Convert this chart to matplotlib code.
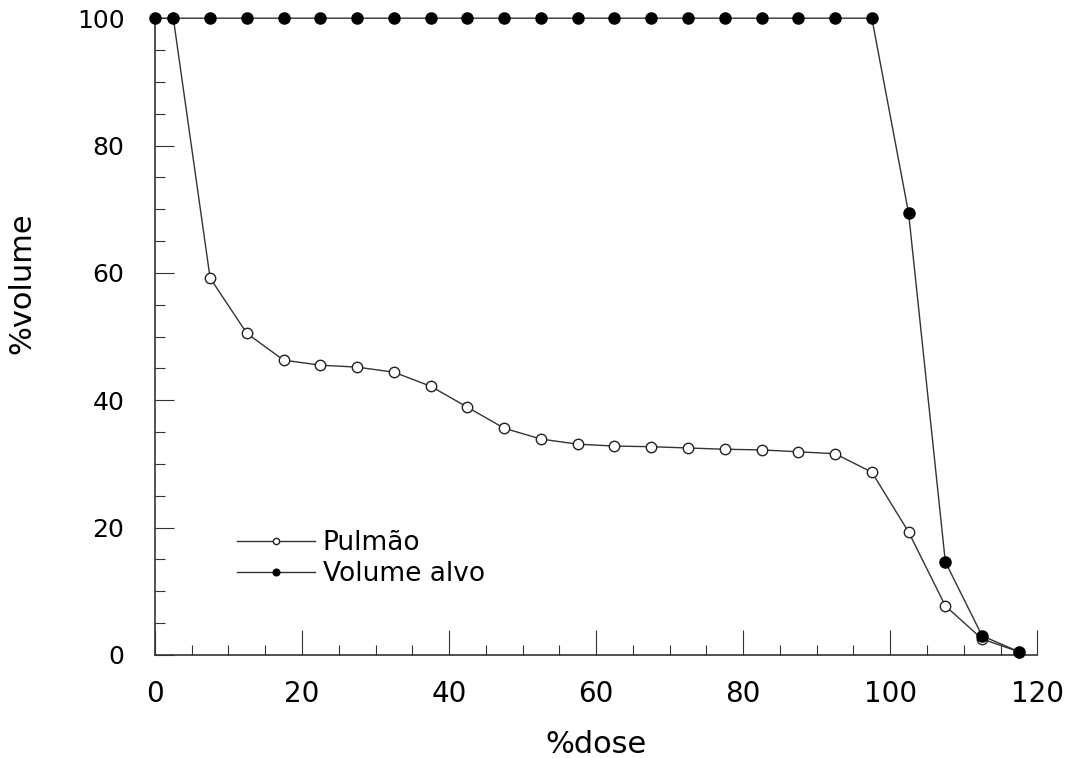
import matplotlib.pyplot as plt
import numpy as np

dose = [0, 2.5, 7.5, 12.5, 17.5, 22.5, 27.5, 32.5, 37.5, 42.5, 47.5, 52.5,
        57.5, 62.5, 67.5, 72.5, 77.5, 82.5, 87.5, 92.5, 97.5, 102.5, 107.5,
        112.5, 117.5]
pulmao = [100, 100, 59.2, 50.5, 46.3, 45.5, 45.2, 44.4, 42.2, 38.9, 35.6, 33.9,
          33.1, 32.8, 32.7, 32.5, 32.3, 32.2, 31.9, 31.6, 28.7, 19.3, 7.7,
          2.5, 0.5]
alvo = [100, 100, 100, 100, 100, 100, 100, 100, 100, 100, 100, 100,
        100, 100, 100, 100, 100, 100, 100, 100, 100, 69.4, 14.6,
        3.0, 0.5]

plt.rcParams['font.family'] = ['DejaVu Sans']
fig = plt.figure(figsize=(10.76, 7.58), dpi=100)
ax = fig.add_axes([0.144, 0.136, 0.82, 0.840])

ax.plot(dose[1:], pulmao[1:], color='#333333', lw=1, marker='o', ms=7.5,
        mfc='white', mec='#222222', mew=1, label='Pulmão', clip_on=False, zorder=2)
ax.plot(dose, alvo, color='#333333', lw=1, marker='o', ms=8,
        mfc='black', mec='black', label='Volume alvo', clip_on=False, zorder=3)

ax.set_xlim(0, 120)
ax.set_ylim(0, 100)
ax.set_xticks(np.arange(0, 121, 20))
ax.set_xticks(np.arange(0, 121, 5), minor=True)
ax.set_yticks(np.arange(0, 101, 20))
ax.set_yticks(np.arange(0, 101, 5), minor=True)

for s in ['top', 'right']:
    ax.spines[s].set_visible(False)
for s in ['left', 'bottom']:
    ax.spines[s].set_color('#333333')
    ax.spines[s].set_linewidth(1.2)

ax.tick_params(axis='x', which='major', direction='in', length=18, width=0.8,
               pad=18, labelsize=20, colors='#333333', labelcolor='black')
ax.tick_params(axis='x', which='minor', direction='in', length=7, width=0.8,
               colors='#333333')
ax.tick_params(axis='y', which='major', direction='in', length=14, width=0.8,
               pad=22, labelsize=18, colors='#333333', labelcolor='black')
ax.tick_params(axis='y', which='minor', direction='in', length=7, width=0.8,
               colors='#333333')

ax.set_xlabel('%dose', fontsize=22)
ax.set_ylabel('%volume', fontsize=22)
ax.xaxis.set_label_coords(0.5, -0.118)
ax.yaxis.set_label_coords(-0.134, 0.584)

leg = ax.legend(loc='upper left', bbox_to_anchor=(0.081, 0.213), borderaxespad=0,
                frameon=False, fontsize=19, markerscale=0.6, handlelength=2.95,
                handletextpad=0.3, labelspacing=0.2)

plt.savefig('out.png', dpi=100)
